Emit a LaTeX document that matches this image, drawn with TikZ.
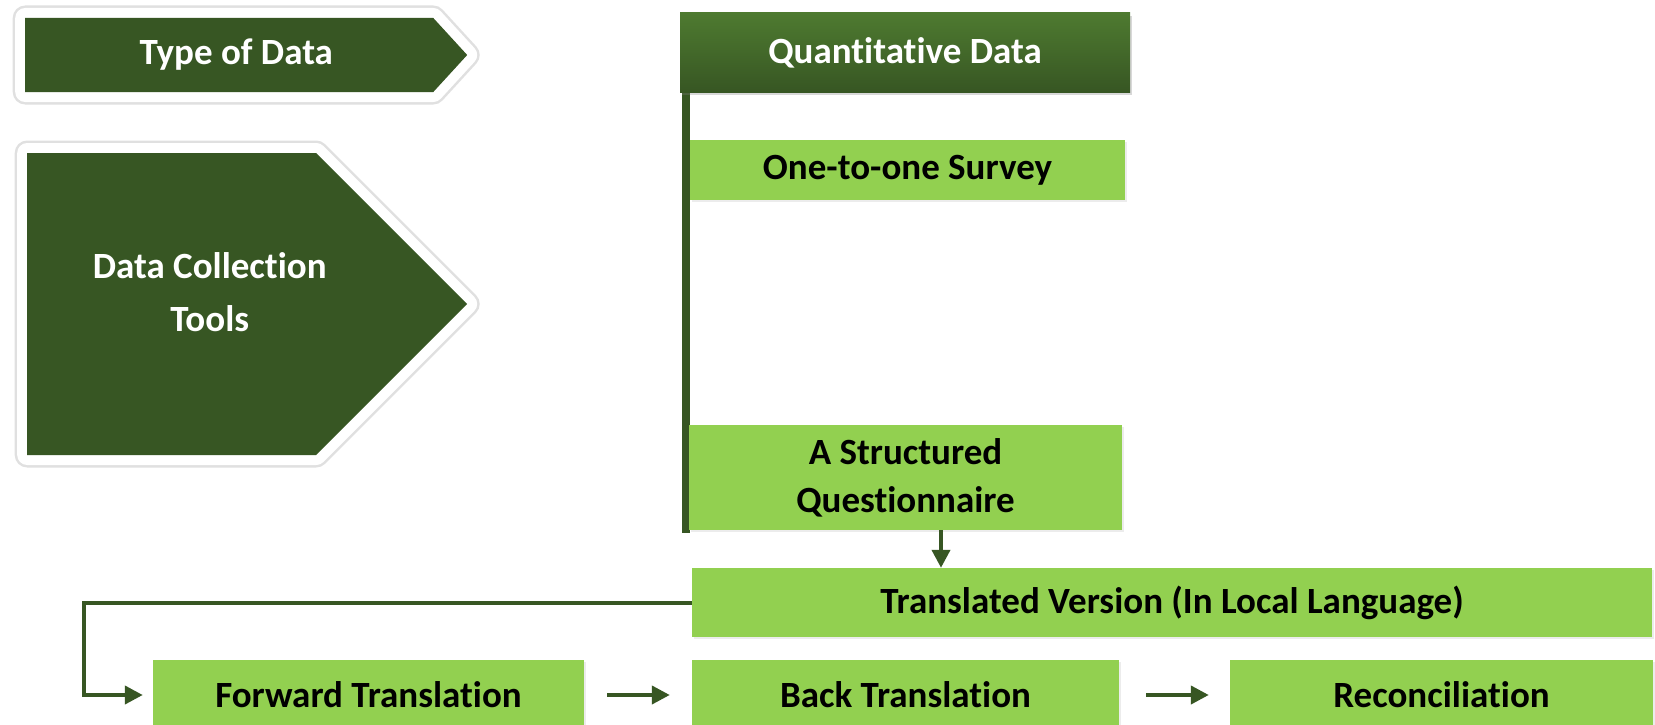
\documentclass[tikz,border=0pt]{standalone}
\usepackage{fontspec}
\setmainfont{Carlito}[Renderer=OpenType,RawFeature={-liga;-clig;-calt;-dlig;-rlig}]
\usetikzlibrary{arrows.meta,positioning,shapes.symbols,shadows}
\definecolor{darkgreen}{HTML}{375623}
\definecolor{midgreen}{HTML}{4E7A30}
\definecolor{lightgreen}{HTML}{92D050}
\tikzset{>={Triangle[length=18pt,width=18pt]},
	tagbox/.style={signal,signal to=east,fill=darkgreen,inner sep=0pt,
		preaction={draw=black!12,line width=25pt,line join=round},
		preaction={draw=white,line width=20pt,line join=round}},
	tagtext/.style={text=white,align=center,font=\fontsize{37}{53}\selectfont\bfseries},
	headbox/.style={rectangle,top color=midgreen,bottom color=darkgreen,text=white,inner sep=0pt,
		font=\fontsize{37}{46}\selectfont\bfseries,drop shadow={opacity=0.3,shadow xshift=2pt,shadow yshift=-3pt}},
	toolbox/.style={rectangle,fill=lightgreen,text=black,inner sep=0pt,align=center,
		font=\fontsize{37}{48}\selectfont\bfseries,drop shadow={opacity=0.15,shadow xshift=2pt,shadow yshift=-2pt}},
	link/.style={draw=darkgreen,line width=4pt}}
\begin{document}
\begin{tikzpicture}[x=1pt,y=-1pt]
	\clip (0,0) rectangle (1655,725);
	\fill[white] (0,0) rectangle (1655,725);
	% left tags
	\node (type) at (25,55) [tagbox,anchor=west,minimum width=442pt,minimum height=74pt,signal pointer angle=95,
		label={[tagtext,xshift=7pt]center:Type of Data}] {};
	\node (tools) at (27,304) [tagbox,anchor=west,minimum width=440pt,minimum height=302pt,signal pointer angle=90,
		label={[tagtext,xshift=38pt,yshift=12pt]center:Data Collection\\Tools}] {};
	% column
	\fill[darkgreen] (682,52) rectangle (690,533);
	\node (quant) at (905,52.5) [headbox,minimum width=450pt,minimum height=79pt] {Quantitative Data};
	\node (survey) at (907.5,170) [toolbox,minimum width=435pt,minimum height=60pt] {One-to-one Survey};
	\node (quest) at (905.5,477.5) [toolbox,minimum width=433pt,minimum height=105pt] {A Structured\\Questionnaire};
	\node (trans) at (1172,602.5) [toolbox,minimum width=960pt,minimum height=69pt] {Translated Version (In Local Language)};
	\node (fwd) at (368.5,695) [toolbox,minimum width=431pt,minimum height=70pt] {Forward Translation};
	\node (back) at (905.5,695) [toolbox,minimum width=427pt,minimum height=70pt] {Back Translation};
	\node (rec) at (1441.5,695) [toolbox,minimum width=423pt,minimum height=70pt] {Reconciliation};
	\coordinate (turn) at (84,602.5);
	\draw[link,->] ([xshift=35.5pt]quest.south) -- ([xshift=35.5pt]quest.south |- trans.north);
	\draw[link,->,shorten >=10pt] (trans.west) -- (turn) -- (turn |- fwd.west) -- (fwd.west);
	\draw[link,->,shorten <=23pt,shorten >=22pt] (fwd) -- (back);
	\draw[link,->,shorten <=27pt,shorten >=21pt] (back) -- (rec);
\end{tikzpicture}
\end{document}
